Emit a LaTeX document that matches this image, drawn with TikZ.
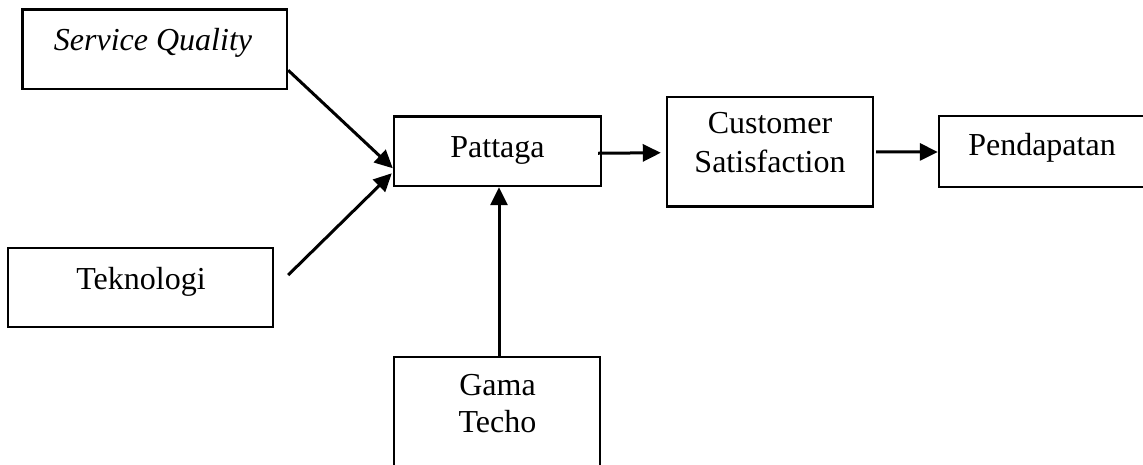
\documentclass[tikz,border=0pt]{standalone}
\usepackage{fontspec}
\setmainfont{Liberation Serif}
\usetikzlibrary{arrows.meta,calc}
\begin{document}
\begin{tikzpicture}[x=1pt,y=-1pt,
  box/.style={draw,line width=2.4pt,rectangle,inner sep=0pt},
  lbl/.style={anchor=base,inner sep=0pt,font=\fontsize{32}{38}\selectfont},
  conn/.style={line width=3pt,-{Triangle[length=18pt,width=17pt]}}]
\useasboundingbox (0,0) rectangle (1143,464);
% boxes
\node[box,minimum width=264.5pt,minimum height=79.5pt] (sq)   at (154.75,49.25) {};
\node[box,minimum width=265pt,minimum height=79pt]     (tek)  at (140.5,287.5) {};
\node[box,minimum width=207pt,minimum height=69.5pt]   (pat)  at (497.5,151.25) {};
\node[box,minimum width=206pt,minimum height=109.5pt]  (cs)   at (770,151.75) {};
\node[box,minimum width=221pt,minimum height=71pt]     (pend) at (1049.5,151.5) {};
\node[box,minimum width=206pt,minimum height=123pt]    (gama) at (497,418.5) {};
% labels
\node[lbl] (sqt)   at (153,50)   {\itshape Service Quality};
\node[lbl] (tekt)  at (141,289)  {Teknologi};
\node[lbl] (patt)  at (497.5,157) {Pattaga};
\node[lbl] (cst1)  at (770,133)  {Customer};
\node[lbl] (cst2)  at (770,172)  {Satisfaction};
\node[lbl] (pendt) at (1042,155) {Pendapatan};
\node[lbl] (gat1)  at (497.5,395) {Gama};
\node[lbl] (gat2)  at (497.5,432) {Techo};
% connectors
\draw[conn] ($(sq.east)+(0,21)$) -- ($(pat.west)+(0,17)$);
\draw[conn] ($(tek.east)+(14,-12.5)$) -- ($(pat.west)+(-1,22)$);
\draw[conn] ($(pat.east)+(-4,2)$) -- ($(cs.west)+(-5,1)$);
\draw[conn] ($(cs.east)+(2,0)$) -- ($(pend.west)+(0,0.5)$);
\draw[conn] ($(gama.north)+(2,0)$) -- ($(pat.south)+(1.5,0)$);
\end{tikzpicture}
\end{document}
